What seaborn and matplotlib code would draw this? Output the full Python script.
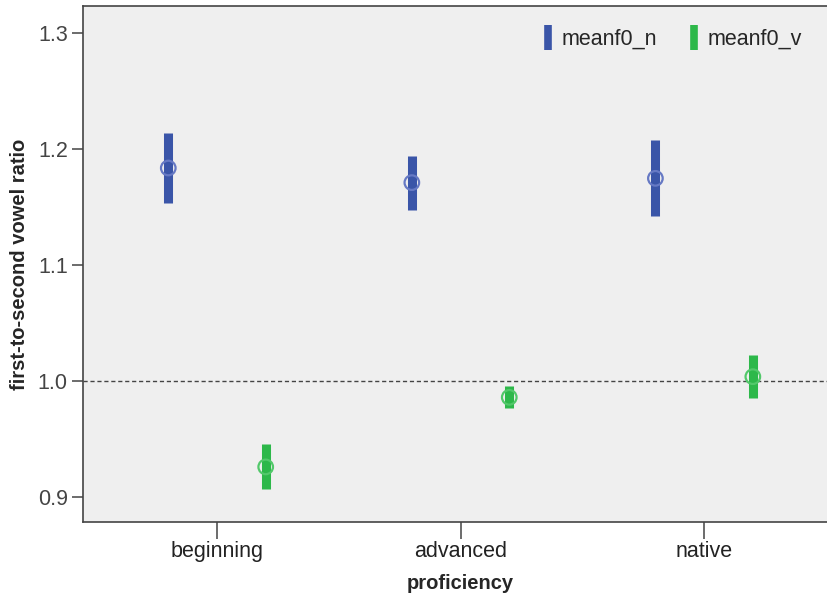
import matplotlib
matplotlib.use("Agg")
import matplotlib.pyplot as plt
from matplotlib.lines import Line2D
import numpy as np
import pandas as pd
import seaborn as sns

# Proficiency groups and the two F0 measures
proficiency = ["beginning", "advanced", "native"]
series = ["meanf0_n", "meanf0_v"]

# Group means and interval limits for each measure
mean_n = [1.1836, 1.1710, 1.1747]
low_n = [1.1534, 1.1474, 1.1422]
high_n = [1.2138, 1.1940, 1.2078]

mean_v = [0.9259, 0.9859, 1.0037]
low_v = [0.9069, 0.9764, 0.9853]
high_v = [0.9454, 0.9960, 1.0222]

bar_colors = {"meanf0_n": "#3A55A8", "meanf0_v": "#2DB84A"}
ring_colors = {"meanf0_n": "#6679C4", "meanf0_v": "#52C86A"}
offsets = {"meanf0_n": -0.2, "meanf0_v": 0.2}

rows = []
for name, m, lo, hi in [("meanf0_n", mean_n, low_n, high_n),
                        ("meanf0_v", mean_v, low_v, high_v)]:
    for i, grp in enumerate(proficiency):
        rows.append({"proficiency": grp, "series": name, "pos": i + offsets[name],
                     "mean": m[i], "low": lo[i], "high": hi[i]})
df = pd.DataFrame(rows)

sns.set_theme(style="ticks")
plt.rcParams["font.family"] = ["Liberation Sans", "DejaVu Sans"]

fig = plt.figure(figsize=(8.27, 5.97), dpi=100)
ax = fig.add_axes([0.1004, 0.1256, 0.913, 0.8644])
ax.set_facecolor("#EFEFEF")

# reference line at ratio 1
ax.axhline(1.0, color="#444444", lw=1.0, ls=(0, (3, 2)), zorder=1)

# interval bars
for name in series:
    sub = df[df["series"] == name]
    ax.vlines(sub["pos"], sub["low"], sub["high"], color=bar_colors[name],
              lw=6.5, zorder=2)

# hollow mean markers
for name in series:
    sub = df[df["series"] == name]
    sns.scatterplot(data=sub, x="pos", y="mean", ax=ax, marker="o", s=110,
                    facecolors="none", edgecolor=ring_colors[name],
                    linewidth=1.6, zorder=3, legend=False)

ax.set_xlim(-0.55, 2.55)
ax.set_ylim(0.8784, 1.3233)
ax.set_xticks(range(len(proficiency)))
ax.set_xticklabels(proficiency)
ax.set_yticks([0.9, 1.0, 1.1, 1.2, 1.3])
ax.set_yticklabels(["0.9", "1.0", "1.1", "1.2", "1.3"])

for side in ["left", "bottom", "top"]:
    ax.spines[side].set_color("#444444")
    ax.spines[side].set_linewidth(1.2)
ax.spines["right"].set_visible(False)

ax.tick_params(axis="y", length=8, width=1.1, color="#444444",
               labelsize=15.5, labelcolor="#444444", pad=3)
ax.tick_params(axis="x", length=12, width=1.1, color="#444444",
               labelsize=15.5, labelcolor="#222222", pad=1.5)

ax.set_xlabel("proficiency", fontsize=14.5, fontweight="bold", labelpad=8.5)
ax.set_ylabel("first-to-second vowel ratio", fontsize=14.5, fontweight="bold",
              labelpad=6)

handles = [Line2D([], [], color=bar_colors[n], marker="|", ls="none",
                  markersize=18, markeredgewidth=5.5) for n in series]
fig.legend(handles, series, loc="center", bbox_to_anchor=(0.812, 0.934),
           ncol=2, frameon=False, fontsize=15.5, handlelength=0.6,
           handletextpad=0.35, columnspacing=1.4)

fig.savefig("out.png", dpi=100)
